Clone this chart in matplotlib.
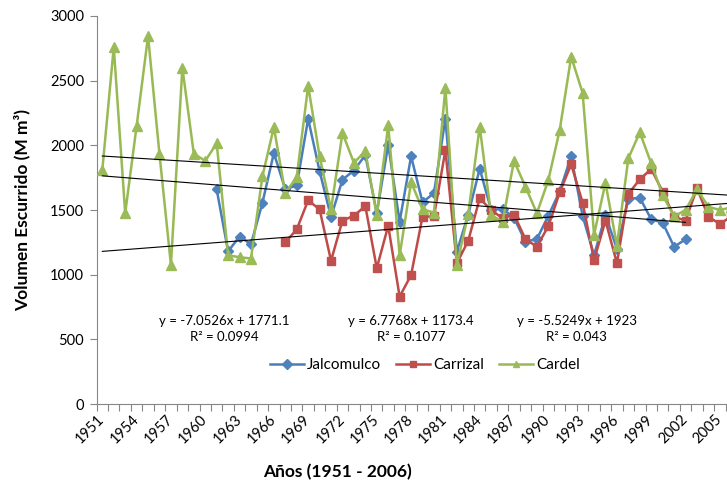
import matplotlib
matplotlib.use("Agg")
import matplotlib.pyplot as plt
import matplotlib.transforms as mtransforms
import numpy as np

years = list(range(1951, 2007))

cardel = [1810, 2760, 1475, 2150, 2845, 1930, 1075, 2600, 1935, 1880,
          2015, 1150, 1135, 1125, 1760, 2140, 1630, 1755, 2460, 1915,
          1505, 2095, 1865, 1955, 1460, 2155, 1150, 1715, 1505, 1480,
          2445, 1075, 1470, 2145, 1460, 1410, 1880, 1680, 1475, 1730,
          2120, 2685, 2405, 1310, 1710, 1225, 1900, 2100, 1860, 1615,
          1450, 1500, 1660, 1525, 1500, 1520]

jalcomulco = [None] * 10 + [
          1660, 1180, 1295, 1235, 1555, 1940, 1660, 1690, 2205, 1800,
          1445, 1735, 1805, 1925, 1475, 2005, 1410, 1915, 1560, 1630,
          2205, 1178, 1465, 1820, 1500, 1510, 1440, 1255, 1275, 1455,
          1645, 1915, 1455, 1150, 1460, 1200, 1585, 1595, 1428, 1402,
          1216, 1273] + [None] * 4

carrizal = [None] * 16 + [
          1250, 1350, 1575, 1505,
          1108, 1418, 1456, 1530, 1050, 1378, 830, 997, 1448, 1450,
          1962, 1088, 1263, 1590, 1500, 1436, 1465, 1275, 1216, 1375,
          1637, 1853, 1557, 1113, 1418, 1088, 1624, 1737, 1817, 1642,
          1448, 1418, 1668, 1448, 1392, 1450]

# trendline equations (x = index starting at 1 for 1951)
trend_jal = (-7.0526, 1771.1, 0.0994)
trend_car = (6.7768, 1173.4, 0.1077)
trend_cde = (-5.5249, 1923.0, 0.043)

series_names = ["Jalcomulco", "Carrizal", "Cardel"]
xtick_years = list(range(1951, 2006, 3))

FONT = "Lato"
plt.rcParams["font.family"] = [FONT, "DejaVu Sans"]

fig = plt.figure(figsize=(7.27, 4.87), dpi=100)
W, H = 727, 487
ax = fig.add_axes([96.6 / W, (H - 404) / H, (737 - 96.6) / W, (404 - 16) / H])

def arr(v):
    return np.array([np.nan if a is None else a for a in v], dtype=float)

yrs = np.array(years)
grey = "#868686"

ax.plot(yrs, arr(jalcomulco), color="#4A7EBB", lw=1.8, marker="D", ms=5.5,
        mfc="#4F81BD", mec="#4F81BD", label=series_names[0], zorder=3)
ax.plot(yrs, arr(carrizal), color="#BE4B48", lw=1.8, marker="s", ms=5.5,
        mfc="#C0504D", mec="#C0504D", label=series_names[1], zorder=3)
ax.plot(yrs, arr(cardel), color="#98B954", lw=1.8, marker="^", ms=7.5,
        mfc="#9BBB59", mec="#9BBB59", label=series_names[2], zorder=3)

def trend(vals, coef):
    v = arr(vals)
    last = np.where(~np.isnan(v))[0].max()
    idx = np.arange(1, last + 2)
    ax.plot(yrs[:last + 1], coef[0] * idx + coef[1], color="black", lw=0.8, zorder=4)

trend(jalcomulco, trend_jal)
trend(carrizal, trend_car)
trend(cardel, trend_cde)

def eqtext(x, coef):
    m, b, r2 = coef
    ax.text(x, 645, "y = %gx + %g" % (m, b), ha="center", va="center", fontsize=9.5)
    ax.text(x, 520, "R² = %g" % r2, ha="center", va="center", fontsize=9.5)

eqtext(1961.7, trend_jal)
eqtext(1978.0, trend_car)
eqtext(1992.5, trend_cde)

ax.set_xlim(1950.5, 2006.5)
ax.set_ylim(0, 3000)
ax.set_yticks(range(0, 3001, 500))
ax.set_xticks(xtick_years)
ax.set_xticklabels([str(y) for y in xtick_years], rotation=45, ha="right",
                   rotation_mode="anchor", fontsize=10.5)
ax.set_xticks(np.arange(1950.5, 2007, 1), minor=True)
ax.tick_params(axis="x", which="major", length=0, pad=6)
ax.tick_params(axis="x", which="minor", length=5, color=grey, width=0.8)
ax.tick_params(axis="y", length=5, color=grey, width=0.8, labelsize=10.5, pad=4)

for s in ["top", "right"]:
    ax.spines[s].set_visible(False)
for s in ["left", "bottom"]:
    ax.spines[s].set_color(grey)
    ax.spines[s].set_linewidth(0.8)

fig.text(22 / W, 1 - 210 / H, "Volumen Escurrido (M m³)", rotation=90,
         ha="center", va="center", fontsize=12.5, fontweight="bold")
fig.text(337 / W, 1 - 472 / H, "Años (1951 - 2006)", ha="center", va="center",
         fontsize=12.5, fontweight="bold")

leg = ax.legend(loc="center", bbox_to_anchor=(425 / W, 1 - 365 / H),
                bbox_transform=fig.transFigure, ncol=3, frameon=False,
                fontsize=11, handlelength=2.2, columnspacing=1.0, handletextpad=0.2)
for h in leg.legend_handles:
    h.set_markersize(5)

offset = mtransforms.ScaledTranslation(-5 / 100, 0, fig.dpi_scale_trans)
for t in ax.xaxis.get_major_ticks():
    t.label1.set_transform(t.label1.get_transform() + offset)

fig.savefig("out.png", dpi=100)
